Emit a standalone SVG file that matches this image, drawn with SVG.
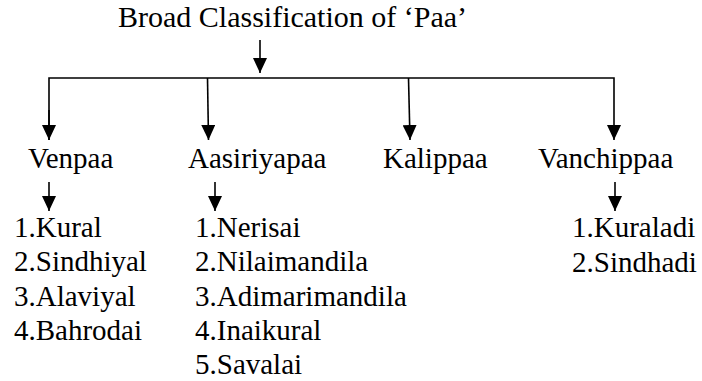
<svg xmlns="http://www.w3.org/2000/svg" width="702" height="381" viewBox="0 0 702 381">
  <style>
    text { font-family: 'Liberation Serif', 'Times New Roman', serif; font-size: 29px; fill: #000; }
    .title { font-size: 30px; }
    .ln { stroke: #000; stroke-width: 1.6; fill: none; }
  </style>
  <defs>
    <marker id="ah" markerUnits="userSpaceOnUse" markerWidth="15" markerHeight="14" refX="15" refY="7" orient="auto">
      <path d="M0,0 L15,7 L0,14 Z" fill="#000"/>
    </marker>
  </defs>
  <rect width="702" height="381" fill="#fff"/>

  <g id="connectors">
    <line class="ln" x1="260" y1="40" x2="260" y2="73" marker-end="url(#ah)"/>
    <polyline class="ln" points="49,140 49,78 614,78 614,140" marker-end="url(#ah)"/>
    <path class="ln" d="M49,110 L49,140" marker-end="url(#ah)"/>
    <line class="ln" x1="207.5" y1="78" x2="208.5" y2="140" marker-end="url(#ah)"/>
    <line class="ln" x1="408.5" y1="78" x2="410" y2="140" marker-end="url(#ah)"/>
    <line class="ln" x1="49" y1="182" x2="49" y2="211" marker-end="url(#ah)"/>
    <line class="ln" x1="215" y1="182" x2="215" y2="211" marker-end="url(#ah)"/>
    <line class="ln" x1="615" y1="182" x2="615" y2="211" marker-end="url(#ah)"/>
  </g>

  <g id="root">
    <text class="title" x="118" y="27">Broad Classification of ‘Paa’</text>
  </g>

  <g id="venpaa">
    <text x="28" y="168">Venpaa</text>
    <text x="14" y="237">1.Kural</text>
    <text x="14" y="271">2.Sindhiyal</text>
    <text x="14" y="306">3.Alaviyal</text>
    <text x="14" y="340">4.Bahrodai</text>
  </g>

  <g id="aasiriyapaa">
    <text x="188" y="168">Aasiriyapaa</text>
    <text x="195" y="237">1.Nerisai</text>
    <text x="195" y="271">2.Nilaimandila</text>
    <text x="195" y="306">3.Adimarimandila</text>
    <text x="195" y="340">4.Inaikural</text>
    <text x="195" y="374">5.Savalai</text>
  </g>

  <g id="kalippaa">
    <text x="383" y="168">Kalippaa</text>
  </g>

  <g id="vanchippaa">
    <text x="538" y="168">Vanchippaa</text>
    <text x="572" y="237">1.Kuraladi</text>
    <text x="572" y="272">2.Sindhadi</text>
  </g>
</svg>
